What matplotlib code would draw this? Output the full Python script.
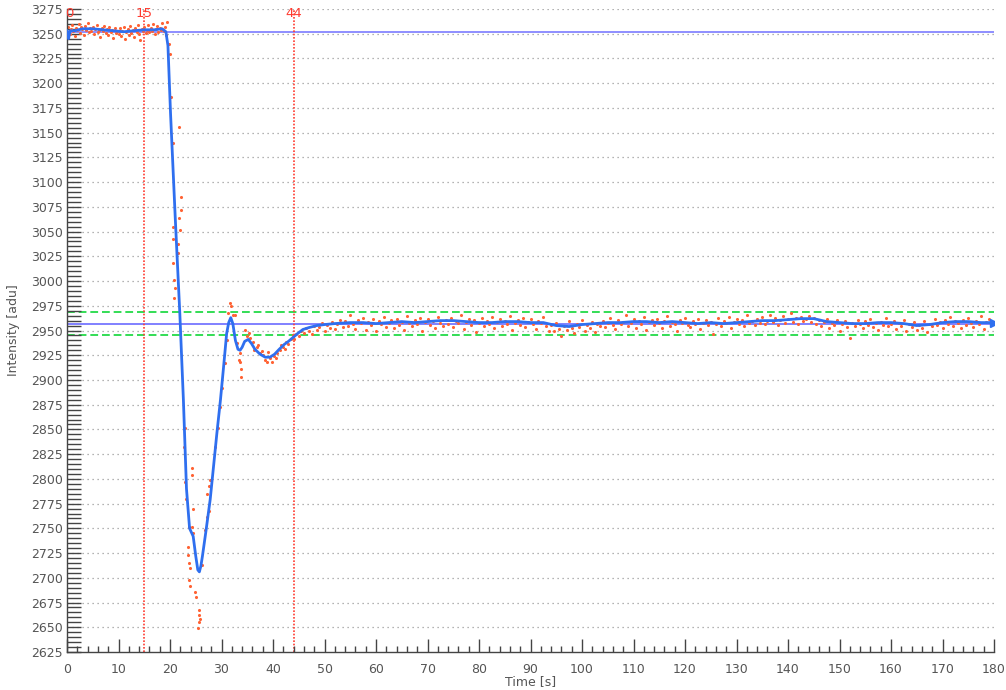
import numpy as np
import matplotlib.pyplot as plt
from matplotlib.ticker import MultipleLocator

# ----------------------
# Data
# ----------------------
# smoothed intensity (blue line)
smooth_t = [0, 0.3, 0.6, 1.5, 3, 5, 7, 9, 11, 13, 15, 17, 18.5, 19.2, 19.6,
            20.1, 21.0, 21.9, 22.6, 23.2, 23.8, 24.5, 25.0, 25.4, 25.7, 26.0,
            26.3, 27.0, 27.8, 28.5, 29.1, 29.8, 30.4, 31.0, 31.4, 31.8, 32.2,
            32.7, 33.2, 33.6, 34.0, 34.5, 35.2, 35.8, 36.5, 37.5, 38.5, 39.4,
            40.3, 41.2, 42.2, 43.0, 43.9, 44.8, 45.8, 47, 48.5, 50, 52, 55,
            57.5, 60, 62.5, 65, 67.5, 70, 72.5, 75, 77.5, 80,
            82.5, 85, 87.5, 90, 92.5, 95, 97.5, 100, 102.5, 105,
            107.5, 110, 112.5, 115, 117.5, 120, 122.5, 125, 127.5, 130,
            132.5, 135, 137.5, 140, 142.5, 145, 147.5, 150, 152.5, 155,
            157.5, 160, 162.5, 165, 167.5, 170, 172.5, 175, 177.5, 180]
smooth_v = [3253, 3245, 3253, 3253, 3255, 3255, 3254, 3253, 3252, 3253, 3254, 3254, 3255, 3252, 3238,
            3170, 3066, 2968, 2880, 2790, 2750, 2742, 2722, 2708, 2706, 2712,
            2722, 2748, 2779, 2815, 2846, 2880, 2913, 2947, 2958, 2963, 2957,
            2940, 2931, 2930, 2933, 2939, 2941, 2937, 2931, 2926, 2923, 2923,
            2926, 2931, 2936, 2939, 2943, 2947, 2951, 2953, 2955, 2956, 2957, 2958,
            2958, 2957, 2958, 2959, 2958, 2959, 2960, 2960, 2959, 2958,
            2958, 2959, 2959, 2958, 2958, 2955, 2954, 2956, 2957, 2958,
            2958, 2959, 2959, 2958, 2959, 2958, 2957, 2958, 2957, 2958,
            2959, 2960, 2960, 2961, 2962, 2962, 2959, 2958, 2957, 2957,
            2958, 2958, 2957, 2955, 2956, 2958, 2959, 2959, 2958, 2958]

# raw samples before the drop (every 0.25 s, 0 .. 19.5 s)
pre_t = np.arange(0, 19.51, 0.25)
pre_v = [3252, 3257, 3250, 3255, 3259, 3253, 3248, 3256, 3254, 3260, 3251, 3257, 3255, 3249, 3258, 3254, 3261, 3252, 3256, 3253,
         3257, 3250, 3255, 3259, 3252, 3254, 3247, 3256, 3253, 3258, 3251, 3255, 3249, 3257, 3252, 3254, 3246, 3256, 3251, 3253,
         3250, 3256, 3248, 3253, 3257, 3245, 3252, 3255, 3249, 3258, 3251, 3254, 3247, 3256, 3252, 3259, 3250, 3244, 3255, 3253,
         3257, 3251, 3254, 3259, 3252, 3256, 3253, 3260, 3250, 3255, 3258, 3252, 3256, 3254, 3261, 3253, 3257, 3249, 3262]

# raw samples during the transition
mid_t = [19.8, 20.0, 20.2, 20.5, 20.6, 20.6, 20.6, 20.8, 20.8, 20.9, 21.5, 21.6, 21.8, 21.8,
         21.9, 22.1, 22.1, 22.7, 22.9, 22.9, 23.1, 23.4, 23.5, 23.6, 23.6, 23.7, 23.8, 23.8,
         24.2, 24.3, 24.3, 24.5, 24.5, 24.9, 25.0, 25.5, 25.6, 25.7, 25.7, 25.8,
         26.3, 26.7, 27.1, 27.2, 27.5, 27.6, 27.7, 28.7, 29.4, 29.8, 30.1, 30.7, 31.0,
         31.3, 31.65, 31.8, 32.2, 32.6, 33.1, 33.4, 33.6, 33.6, 33.7, 33.8, 34.6, 35.0,
         35.3, 35.5, 36.1, 36.4, 36.8, 37.0, 37.5, 37.8, 38.1, 38.4, 38.8, 39.0, 39.4,
         39.8, 40.1, 40.5, 40.7, 41.3, 41.6, 42.0, 42.3, 42.5, 43.0, 43.4, 43.8]
mid_v = [3240, 3230, 3186, 3140, 3055, 3043, 3018, 3001, 2983, 2993, 3028, 3037, 3156, 3064,
         3052, 3085, 3072, 2832, 2851, 2797, 2780, 2731, 2723, 2751, 2715, 2698, 2710, 2692,
         2751, 2811, 2804, 2770, 2745, 2686, 2681, 2649, 2655, 2667, 2662, 2658,
         2713, 2748, 2785, 2761, 2768, 2793, 2799, 2832, 2851, 2873, 2892, 2917, 2940,
         2968, 2978, 2975, 2966, 2966, 2937, 2920, 2918, 2927, 2911, 2903, 2951, 2944,
         2947, 2942, 2938, 2930, 2933, 2935, 2927, 2929, 2925, 2920, 2918, 2928, 2922,
         2918, 2924, 2922, 2927, 2930, 2935, 2933, 2931, 2938, 2936, 2941, 2945]

# raw samples after 44 s (every 0.5 s, 44 .. 180 s)
post_t = np.arange(44, 180.01, 0.5)
post_v = [2941, 2946, 2944, 2950, 2947, 2953, 2949, 2946, 2955, 2951, 2954, 2958, 2950, 2956, 2953, 2959, 2952, 2957, 2961, 2954,
          2960, 2955, 2966, 2957, 2952, 2961, 2958, 2963, 2951, 2959, 2956, 2962, 2949, 2960, 2957, 2964, 2954, 2958, 2961, 2953,
          2962, 2956, 2959, 2951, 2965, 2958, 2955, 2961, 2957, 2963, 2950, 2959, 2962, 2956, 2960, 2953, 2964, 2958, 2955, 2961,
          2957, 2963, 2954, 2960, 2958, 2966, 2952, 2959, 2962, 2956, 2961, 2948, 2958, 2963, 2955, 2960, 2957, 2964, 2953, 2959,
          2962, 2955, 2960, 2957, 2965, 2951, 2958, 2961, 2956, 2963, 2954, 2959, 2962, 2957, 2952, 2960, 2958, 2964, 2955, 2950,
          2956, 2949, 2958, 2952, 2944, 2955, 2951, 2960, 2953, 2947, 2957, 2954, 2961, 2950, 2956, 2953, 2959, 2948, 2957, 2955,
          2960, 2954, 2958, 2963, 2956, 2952, 2961, 2957, 2959, 2966, 2955, 2958, 2962, 2953, 2960, 2957, 2964, 2951, 2959, 2961,
          2956, 2962, 2958, 2953, 2960, 2965, 2955, 2959, 2957, 2950, 2961, 2958, 2963, 2956, 2954, 2960, 2957, 2962, 2952, 2958,
          2961, 2956, 2959, 2946, 2957, 2963, 2955, 2960, 2958, 2964, 2953, 2959, 2962, 2957, 2961, 2955, 2966, 2958, 2960, 2956,
          2962, 2958, 2964, 2957, 2960, 2966, 2959, 2963, 2956, 2961, 2965, 2958, 2962, 2968, 2959, 2963, 2957, 2964, 2960, 2962,
          2965, 2959, 2963, 2957, 2961, 2955, 2959, 2962, 2953, 2958, 2956, 2961, 2949, 2957, 2960, 2954, 2942, 2958, 2955, 2961,
          2957, 2953, 2960, 2956, 2962, 2954, 2958, 2951, 2959, 2956, 2963, 2955, 2957, 2960, 2952, 2958, 2955, 2961, 2950, 2957,
          2954, 2959, 2951, 2956, 2953, 2960, 2948, 2957, 2955, 2962, 2956, 2959, 2953, 2961, 2957, 2964, 2955, 2960, 2958, 2953,
          2961, 2956, 2963, 2958, 2954, 2960, 2957, 2965, 2952, 2959, 2962, 2956, 2958]

# reference levels and markers
start_level = 3252
end_level = 2957
band_levels = [2969, 2945]
marker_times = [15, 44]

# ----------------------
# Plot
# ----------------------
GRAY = "#555555"
BLUE = "#2f6fef"
RED = "#ff3b30"

fig = plt.figure(figsize=(10.06, 6.90), dpi=100)
ax = fig.add_axes([67 / 1006, 38 / 690, 927 / 1006, 643 / 690])

ax.set_xlim(0, 180)
ax.set_ylim(2625, 3275)

# horizontal grid (dotted)
for y in np.arange(2650, 3276, 25):
    ax.axhline(y, color="#9a9a9a", lw=0.9, ls=(0, (1, 3)), zorder=0)

# reference lines
ax.axhline(start_level, color="#7b7bff", lw=1.2, zorder=1)
ax.axhline(end_level, color="#6b6bff", lw=1.2, zorder=1)
for lvl in band_levels:
    ax.axhline(lvl, color="#33dd55", lw=1.4, ls=(0, (4, 2)), zorder=1)
for t in marker_times:
    ax.axvline(t, color=RED, lw=1.2, ls=(0, (1, 1)), zorder=1)

# red marker labels at the top
ax.text(0.4, 3270, "0", color=RED, fontsize=9.5, ha="center", va="center")
for t in marker_times:
    ax.text(t, 3270, str(t), color=RED, fontsize=9.5, ha="center", va="center")

# raw samples
scat_kw = dict(s=5, color="#ff6233", linewidths=0, zorder=2)
ax.scatter(pre_t, pre_v, **scat_kw)
ax.scatter(mid_t, mid_v, **scat_kw)
ax.scatter(post_t, post_v, **scat_kw)

# smoothed curve
ax.plot(smooth_t, smooth_v, color=BLUE, lw=2, zorder=3)
ax.plot(smooth_t[-1], smooth_v[-1], marker=">", ms=6, color=BLUE, zorder=3)

# axes styling
for side in ["top", "right"]:
    ax.spines[side].set_visible(False)
for side in ["left", "bottom"]:
    ax.spines[side].set_color("#444444")
    ax.spines[side].set_linewidth(1.0)

ax.xaxis.set_major_locator(MultipleLocator(10))
ax.xaxis.set_minor_locator(MultipleLocator(2))
ax.yaxis.set_major_locator(MultipleLocator(25))
ax.yaxis.set_minor_locator(MultipleLocator(5))

ax.tick_params(axis="x", which="major", direction="in", length=9.5, width=1,
               color="#444444", labelcolor=GRAY, labelsize=9, pad=8)
ax.tick_params(axis="x", which="minor", direction="in", length=4.5, width=1,
               color="#444444")
ax.tick_params(axis="y", which="both", direction="in", length=10, width=1,
               color="#444444", labelcolor=GRAY, labelsize=9, pad=3)

ax.set_xlabel("Time [s]", color=GRAY, fontsize=9, labelpad=-1)
ax.set_ylabel("Intensity [adu]", color=GRAY, fontsize=9, labelpad=8)

fig.savefig("out.png", dpi=100)
